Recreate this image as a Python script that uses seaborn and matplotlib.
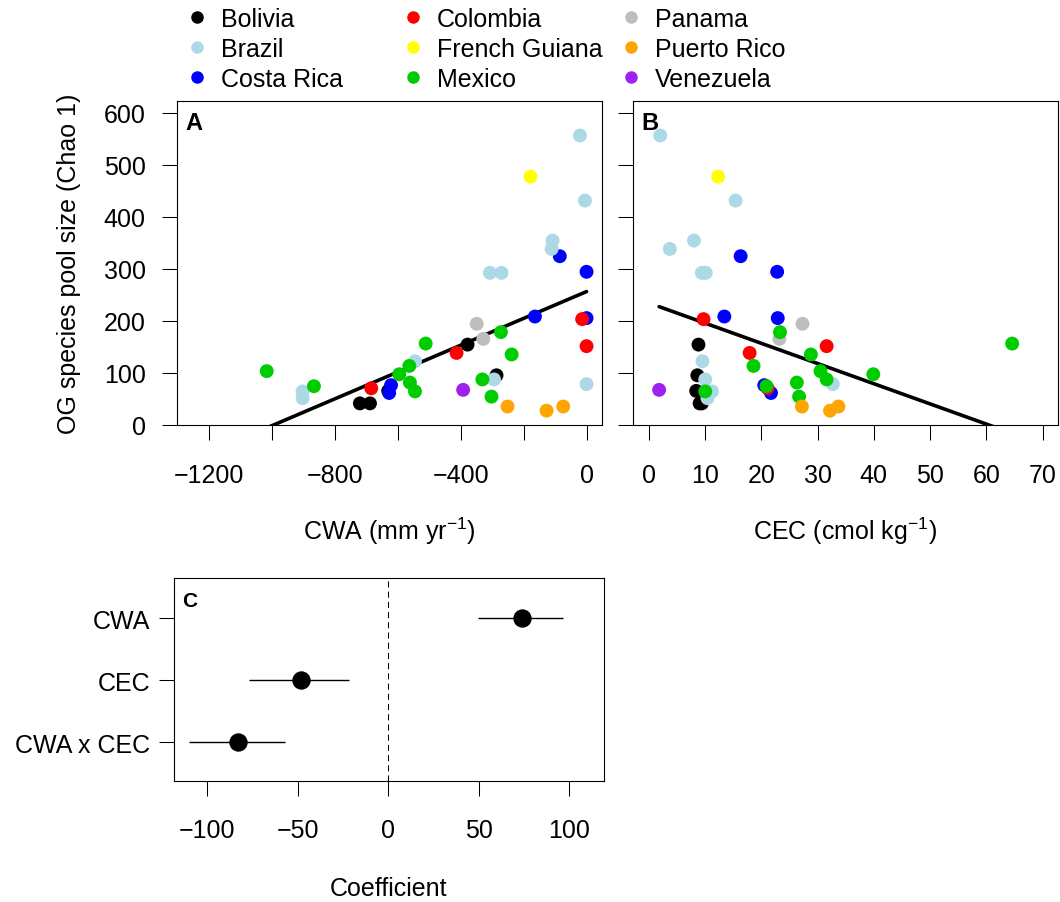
import matplotlib
matplotlib.use("Agg")
import matplotlib.pyplot as plt
from matplotlib.lines import Line2D
import numpy as np
import pandas as pd
import seaborn as sns


# one row per site: country, climatic water availability, soil CEC, Chao1 pool size
COUNTRY = [
    "Bolivia", "Bolivia", "Bolivia", "Bolivia", "Bolivia",
    "Costa Rica", "Costa Rica", "Costa Rica", "Costa Rica", "Costa Rica", "Costa Rica",
    "Colombia", "Colombia", "Colombia", "Colombia",
    "Brazil", "Brazil", "Brazil", "Brazil", "Brazil", "Brazil",
    "Brazil", "Brazil", "Brazil", "Brazil", "Brazil",
    "Panama", "Panama",
    "French Guiana",
    "Mexico", "Mexico", "Mexico", "Mexico", "Mexico", "Mexico",
    "Mexico", "Mexico", "Mexico", "Mexico", "Mexico",
    "Puerto Rico", "Puerto Rico", "Puerto Rico",
    "Venezuela",
]
CWA = [
    -378, -286, -630, -720, -688,
    -85, 0, -164, 0, -621, -627,
    -14, 0, -413, -684,
    -21, -5, -108, -111, -307, -270,
    -545, -294, 0, -902, -902,
    -349, -328,
    -178,
    -272, -511, -238, -563, -1016, -595,
    -331, -561, -866, -545, -302,
    -251, -127, -74,
    -392,
]
CEC = [
    8.8, 8.6, 8.4, 9.0, 9.4,
    16.3, 22.8, 13.4, 22.9, 20.5, 21.7,
    9.7, 31.6, 17.9, 21.1,
    2.0, 15.4, 8.0, 3.7, 9.4, 10.1,
    9.5, 10.0, 32.7, 11.2, 10.4,
    27.3, 23.2,
    12.3,
    23.3, 64.6, 28.8, 18.6, 30.5, 39.9,
    31.6, 26.3, 20.9, 10.0, 26.7,
    27.2, 32.2, 33.7,
    1.8,
]
CHAO = [
    154, 95, 65, 41, 41,
    324, 294, 208, 205, 76, 61,
    203, 151, 138, 70,
    556, 431, 354, 338, 292, 292,
    122, 87, 78, 64, 51,
    194, 165,
    477,
    178, 156, 135, 113, 103, 97,
    87, 81, 74, 64, 54,
    35, 27, 35,
    67,
]

FIT_CWA = (256.0, 0.258)
FIT_CEC = (234.0, -3.88)

# model coefficients with their intervals (panel C)
TERMS = ["CWA", "CEC", "CWA x CEC"]
COEF = [74, -48, -83]
CI_LOW = [49.5, -77, -110]
CI_HIGH = [96.5, -21.5, -57]

LEGEND_ORDER = [
    "Bolivia", "Brazil", "Costa Rica",
    "Colombia", "French Guiana", "Mexico",
    "Panama", "Puerto Rico", "Venezuela",
]
PALETTE = {
    "Bolivia": "#000000",
    "Brazil": "#ADD8E6",
    "Costa Rica": "#0000FF",
    "Colombia": "#FF0000",
    "French Guiana": "#FFFF00",
    "Mexico": "#00CD00",
    "Panama": "#BEBEBE",
    "Puerto Rico": "#FFA500",
    "Venezuela": "#A020F0",
}

W, H = 1060, 903
FS = 18
FS_PX = FS * 100 / 72


def minus(v):
    return f"{v:g}".replace("-", "\u2212")


def px_axes(fig, left, top, right, bottom):
    return fig.add_axes([left / W, 1 - bottom / H, (right - left) / W, (bottom - top) / H])


def style_axes(ax, xpad, ypad):
    for side in ["left", "right", "top", "bottom"]:
        ax.spines[side].set_visible(True)
        ax.spines[side].set_color("black")
        ax.spines[side].set_linewidth(0.8)
    ax.tick_params(axis="both", direction="out", length=10.8, width=0.75,
                   color="black", labelsize=FS, labelcolor="black")
    ax.tick_params(axis="x", pad=xpad)
    ax.tick_params(axis="y", pad=ypad)
    ax.grid(False)


sns.set_theme(style="ticks")
plt.rcParams["font.family"] = ["Liberation Sans", "DejaVu Sans"]
plt.rcParams["mathtext.fontset"] = "custom"
plt.rcParams["mathtext.rm"] = "Liberation Sans"
plt.rcParams["mathtext.it"] = "Liberation Sans:italic"
plt.rcParams["text.color"] = "black"
plt.rcParams["axes.labelcolor"] = "black"

df = pd.DataFrame({"country": COUNTRY, "cwa": CWA, "cec": CEC, "chao": CHAO})

fig = plt.figure(figsize=(W / 100, H / 100), dpi=100)
ax_a = px_axes(fig, 177.3, 101.7, 602.3, 425.7)
ax_b = px_axes(fig, 632.7, 101.7, 1057.7, 425.7)
ax_c = px_axes(fig, 173.5, 579.0, 603.7, 781.7)

# panels A and B
for ax, col, fit in [(ax_a, "cwa", FIT_CWA), (ax_b, "cec", FIT_CEC)]:
    xs = np.array([df[col].min(), df[col].max()])
    sns.lineplot(x=xs, y=fit[0] + fit[1] * xs, color="black", lw=2.6, ax=ax, zorder=1)
    sns.scatterplot(data=df, x=col, y="chao", hue="country", palette=PALETTE,
                    s=100, linewidth=0, legend=False, ax=ax, zorder=2)
    ax.set_ylim(0, 623)
    ax.set_yticks(np.arange(0, 601, 100))
    style_axes(ax, xpad=16.5, ypad=12)

ax_a.set_xlim(-1300, 50)
a_ticks = np.arange(-1200, 1, 200)
ax_a.set_xticks(a_ticks)
ax_a.set_xticklabels([minus(t) if t % 400 == 0 else "" for t in a_ticks])
ax_a.set_ylabel("OG species pool size (Chao 1)", fontsize=FS, labelpad=16)
ax_a.set_xlabel("CWA (mm yr$^{-1}$)", fontsize=FS, labelpad=20)

ax_b.set_xlim(-2.9, 72.7)
ax_b.set_xticks(np.arange(0, 71, 10))
ax_b.tick_params(axis="y", labelleft=False)
ax_b.set_ylabel("")
ax_b.set_xlabel("CEC (cmol kg$^{-1}$)", fontsize=FS, labelpad=20)

ax_a.text(0.018, 0.969, "A", transform=ax_a.transAxes, fontsize=17,
          fontweight="bold", ha="left", va="top", color="black")
ax_b.text(0.021, 0.969, "B", transform=ax_b.transAxes, fontsize=17,
          fontweight="bold", ha="left", va="top", color="black")

# panel C: coefficient plot
ypos = np.arange(len(TERMS), 0, -1)
ax_c.axvline(0, color="black", lw=0.75, dashes=(5.8, 4.0), zorder=1)
ax_c.hlines(ypos, CI_LOW, CI_HIGH, color="black", lw=1.0, zorder=2)
sns.scatterplot(x=COEF, y=ypos, color="black", s=175, linewidth=0, ax=ax_c, zorder=3)
ax_c.set_xlim(-118.6, 119)
ax_c.set_ylim(0.38, 3.645)
ax_c.set_xticks([-100, -50, 0, 50, 100])
ax_c.set_xticklabels([minus(t) for t in [-100, -50, 0, 50, 100]])
ax_c.set_yticks(ypos)
ax_c.set_yticklabels(TERMS)
style_axes(ax_c, xpad=16.3, ypad=5.8)
ax_c.set_xlabel("Coefficient", fontsize=FS, labelpad=24)
ax_c.set_ylabel("")
ax_c.text(0.019, 0.937, "C", transform=ax_c.transAxes, fontsize=15,
          fontweight="bold", ha="left", va="top", color="black")

# legend: three columns of equal width across the top
col_x = [197.3, 413.0, 631.0]
for i, cx in enumerate(col_x):
    names = LEGEND_ORDER[i * 3:(i + 1) * 3]
    handles = [Line2D([], [], ls="none", marker="o", markersize=9,
                      markerfacecolor=PALETTE[n], markeredgewidth=0) for n in names]
    fig.legend(handles, names, loc="upper left",
               bbox_to_anchor=((cx - 0.4 * FS_PX) / W, 1 - 8 / H),
               frameon=False, borderpad=0, borderaxespad=0, handlelength=0.8,
               handletextpad=0.55, labelspacing=0.24, fontsize=FS)

fig.savefig("out.png", dpi=100)
